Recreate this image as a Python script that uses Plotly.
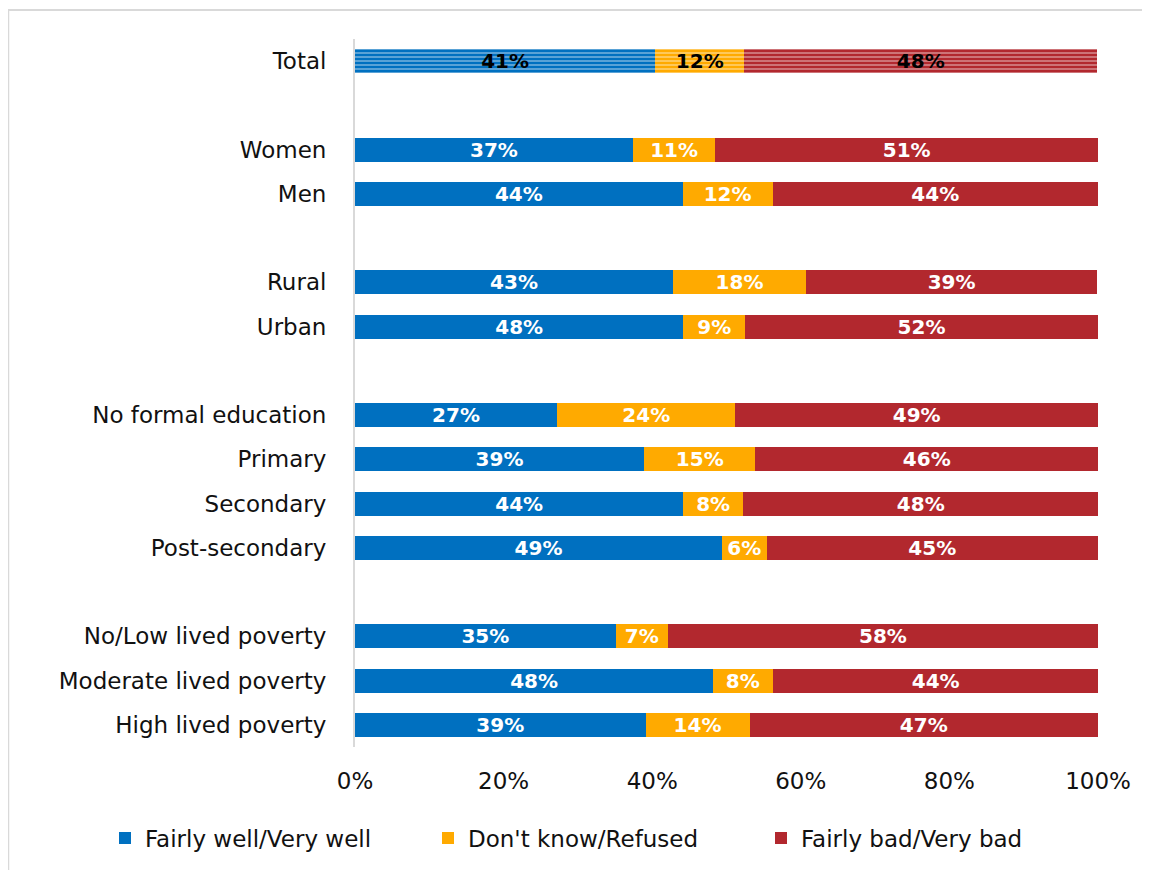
import plotly.graph_objects as go

categories = ["Total", "Women", "Men", "Rural", "Urban", "No formal education",
              "Primary", "Secondary", "Post-secondary", "No/Low lived poverty",
              "Moderate lived poverty", "High lived poverty"]
slots = [0, 2, 3, 5, 6, 8, 9, 10, 11, 13, 14, 15]

well = [40.4, 37.4, 44.1, 42.8, 44.2, 27.2, 38.9, 44.2, 49.4, 35.1, 48.2, 39.1]
dk = [12.0, 11.1, 12.1, 17.9, 8.3, 24.0, 15.0, 8.0, 6.0, 7.0, 8.0, 14.0]
bad = [47.5, 51.5, 43.8, 39.2, 47.5, 48.8, 46.1, 47.9, 44.6, 57.9, 43.9, 46.9]

well_lbl = ["41%", "37%", "44%", "43%", "48%", "27%", "39%", "44%", "49%", "35%", "48%", "39%"]
dk_lbl = ["12%", "11%", "12%", "18%", "9%", "24%", "15%", "8%", "6%", "7%", "8%", "14%"]
bad_lbl = ["48%", "51%", "44%", "39%", "52%", "49%", "46%", "48%", "45%", "58%", "44%", "47%"]

series = [("Fairly well/Very well", well, well_lbl, "#0070C0"),
          ("Don't know/Refused", dk, dk_lbl, "#FFAA00"),
          ("Fairly bad/Very bad", bad, bad_lbl, "#B2282E")]

FONT = "DejaVu Sans"
W, H = 1142, 862  # page body has an 8px margin
legend_ids = ["legend", "legend2", "legend3"]
legend_x = [97, 420, 753]

fig = go.Figure()
for name, vals, lbls, col in series:
    # Total row with striped pattern
    fig.add_trace(go.Bar(
        x=[vals[0]], y=[slots[0]], orientation="h", width=0.54,
        marker=dict(color=col, line=dict(width=0),
                    pattern=dict(shape="-", fgcolor="white",
                                 size=4, solidity=0.35, fillmode="overlay")),
        text=[lbls[0]], textposition="inside", insidetextanchor="middle",
        textangle=0, constraintext="none",
        textfont=dict(color="black", size=20, family=FONT, weight="bold"),
        showlegend=False, name=name, hoverinfo="skip"))
for (name, vals, lbls, col), lid in zip(series, legend_ids):
    fig.add_trace(go.Bar(
        x=vals[1:], y=slots[1:], orientation="h", width=0.54,
        marker=dict(color=col, line=dict(width=0)),
        text=lbls[1:], textposition="inside", insidetextanchor="middle",
        textangle=0, constraintext="none",
        textfont=dict(color="white", size=20, family=FONT, weight="bold"),
        name=name, legend=lid))

legend_common = dict(orientation="h", xref="container", yref="container",
                     xanchor="left", y=1 - 830 / H, yanchor="middle",
                     font=dict(size=23), itemwidth=30, bgcolor="rgba(0,0,0,0)")

fig.update_layout(
    barmode="stack",
    width=W, height=H,
    margin=dict(l=347, r=51.5, t=31, b=123, autoexpand=False),
    paper_bgcolor="white", plot_bgcolor="white",
    font=dict(family=FONT, size=23, color="#111111"),
    uniformtext=dict(minsize=20, mode="show"),
    xaxis=dict(range=[0, 100], tickvals=[0, 20, 40, 60, 80, 100],
               ticktext=["0%", "20%", "40%", "60%", "80%", "100%"],
               showgrid=False, zeroline=False, showline=False, ticks="",
               ticklabelstandoff=18, tickfont=dict(size=23)),
    yaxis=dict(range=[15.5, -0.5], tickvals=slots, ticktext=categories,
               showgrid=False, zeroline=False, showline=True,
               linecolor="#d9d9d9", linewidth=2, ticks="",
               ticklabelstandoff=22, tickfont=dict(size=23)),
    legend=dict(x=legend_x[0] / W, **legend_common),
    legend2=dict(x=legend_x[1] / W, **legend_common),
    legend3=dict(x=legend_x[2] / W, **legend_common),
    shapes=[dict(type="rect", xref="paper", yref="paper",
                 x0=(8 - 355) / 743.5, x1=1.2, y0=-0.3, y1=(747 - 10) / 708,
                 line=dict(color="#d9d9d9", width=2), fillcolor="rgba(0,0,0,0)",
                 layer="below")],
)

fig.write_html("out.html")
